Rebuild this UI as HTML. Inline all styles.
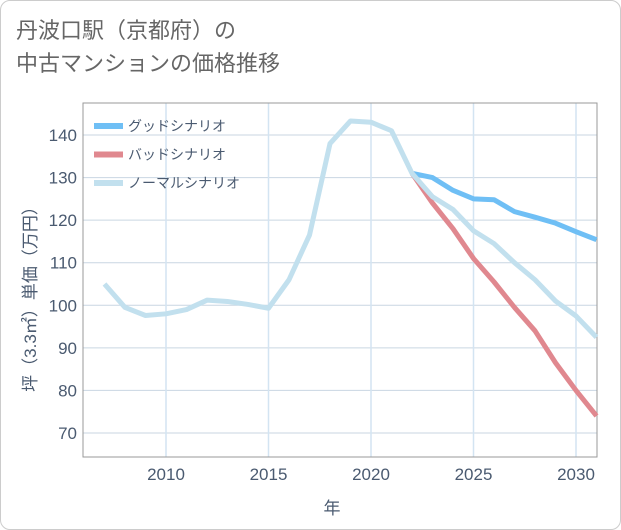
<!DOCTYPE html>
<html><head><meta charset="utf-8"><style>
body{margin:0;width:621px;height:530px;background:#fff;font-family:"Liberation Sans","Noto Sans CJK JP",sans-serif;overflow:hidden}
.card{position:absolute;left:0;top:0;width:619px;height:528px;border:1px solid #ccc;border-radius:10px}
.title{position:absolute;left:16px;top:14px;font-size:22px;line-height:33px;color:#666;font-family:"Liberation Sans","Noto Sans CJK JP",sans-serif}
</style></head><body>
<div class="card"></div>
<div class="title">丹波口駅（京都府）の<br>中古マンションの価格推移</div>
<svg id="chart" width="621" height="530" style="position:absolute;left:0;top:0"></svg>
<script>
const years=[2007,2008,2009,2010,2011,2012,2013,2014,2015,2016,2017,2018,2019,2020,2021,2022,2023,2024,2025,2026,2027,2028,2029,2030,2031];
const normalVals=[105,99.5,97.6,98,99,101.2,100.9,100.2,99.3,106,116.5,138,143.3,143,141,131,125.5,122.5,117.5,114.5,110,106,101,97.5,92.5];
const goodYears=[2022,2023,2024,2025,2026,2027,2028,2029,2030,2031];
const goodVals=[131,130,127,125,124.8,122,120.7,119.3,117.3,115.4];
const badVals=[131,124,118,111,105.5,99.5,94,86.5,80,74];
const yTicks=[70,80,90,100,110,120,130,140];
const xTicks=[2010,2015,2020,2025,2030];
const NS="http://www.w3.org/2000/svg";
const svg=document.getElementById('chart');
const L=83,R=597,T=103,B=457;
const x=v=>166+(v-2010)*20.5;
const y=v=>433-(v-70)*4.257;
function mk(t,a,txt){const e=document.createElementNS(NS,t);for(const k in a)e.setAttribute(k,a[k]);if(txt!==undefined)e.textContent=txt;svg.appendChild(e);return e;}
for(const t of yTicks){
 const g=mk('line',{x1:L,x2:R,y1:y(t),y2:y(t),stroke:'#c9d6e2','stroke-width':1});
 
 
 const l=mk('text',{x:77,y:y(t)+6,'text-anchor':'end','font-size':17,fill:'#4a5a70'},t);
 
 
}
for(const t of xTicks){
 const g=mk('line',{x1:x(t),x2:x(t),y1:T,y2:B,stroke:'#d3e4f2','stroke-width':1.5});
 
 
 const l=mk('text',{x:x(t),y:480,'text-anchor':'middle','font-size':17,fill:'#4a5a70'},t);
 
 
}
const fr=mk('rect',{x:L,y:T,width:R-L,height:B-T,fill:'none',stroke:'#999','stroke-width':1});


function series(xs,vs,color,name){
 const p=mk('polyline',{points:xs.map((yr,i)=>x(yr)+','+y(vs[i])).join(' '),fill:'none',stroke:color,'stroke-width':5,'stroke-linejoin':'round'});
 
 
}
series(goodYears,goodVals,'#6fbff5','good-scenario-line');
series(goodYears,badVals,'#e0888f','bad-scenario-line');
series(years,normalVals,'#c2e0ee','normal-scenario-line');
const leg=[['グッドシナリオ','#6fbff5'],['バッドシナリオ','#e0888f'],['ノーマルシナリオ','#c2e0ee']];
leg.forEach((d,i)=>{
 const ly=126+i*28.5;
 const s=mk('line',{x1:94,x2:123,y1:ly,y2:ly,stroke:d[1],'stroke-width':6});
 
 
 const t=mk('text',{x:128,y:ly+5,'font-size':14,fill:'#4a5a70'},d[0]);
 
 
});
const xt=mk('text',{x:332,y:514,'text-anchor':'middle','font-size':17,fill:'#4a5a70'},'年');


const yt=mk('text',{x:0,y:0,'text-anchor':'middle','font-size':17,fill:'#4a5a70',transform:'translate(36,295) rotate(-90)'},'坪（3.3㎡）単価（万円）');


</script>
</body></html>
